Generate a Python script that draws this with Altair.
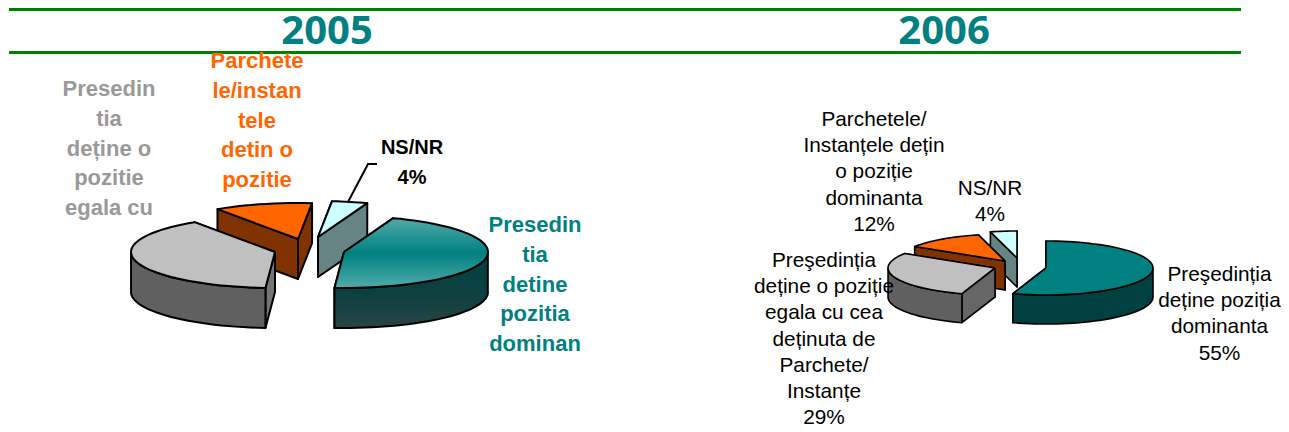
import math
import altair as alt

# ---- values ----
years = ["2005", "2006"]
categories = ["Presedintia dominanta", "Presedintia egala", "Parchetele dominante", "NS/NR"]
shares_2005 = [45.5, 39.5, 11, 4]
shares_2006 = [55, 29, 12, 4]

labels_2005_grey = ["Presedin", "tia", "deține o", "pozitie", "egala cu"]
labels_2005_orange = ["Parchete", "le/instan", "tele", "detin o", "pozitie"]
labels_2005_ns = ["NS/NR", "4%"]
labels_2005_teal = ["Presedin", "tia", "detine", "pozitia", "dominan"]
labels_2006_parchete = ["Parchetele/", "Instanțele dețin", "o poziție", "dominanta", "12%"]
labels_2006_ns = ["NS/NR", "4%"]
labels_2006_egala = ["Preşedinția", "deține o poziție", "egala cu cea", "deținuta de", "Parchete/", "Instanțe", "29%"]
labels_2006_dom = ["Preşedinția", "deține poziția", "dominanta", "55%"]

# ---- layout and styling ----
W, H = 1273, 420
X = alt.X("x:Q", scale=alt.Scale(domain=[8, 8 + W], zero=False, nice=False), axis=None)
Y = alt.Y("y:Q", scale=alt.Scale(domain=[8 + H, 8], zero=False, nice=False), axis=None)


def grad(c1, c2, c3=None):
    cols = [c1, c2] + ([c3] if c3 else [])
    stops = [alt.GradientStop(color=c, offset=i / (len(cols) - 1)) for i, c in enumerate(cols)]
    return alt.LinearGradient(gradient="linear", stops=stops, x1=0, x2=0, y1=0, y2=1)


STYLE = {
    2005: {
        "rx": 144, "ry": 36, "depth": 40, "start": 70, "sw": 2.0,
        "centers": [(344, 252), (275, 252), (298, 239), (318, 237)],
    },
    2006: {
        "rx": 107, "ry": 27, "depth": 29, "start": 90, "sw": 1.6,
        "centers": [(1046, 268), (995, 268), (1005, 261), (1017, 258)],
    },
}
COLORS = {
    2005: [
        (grad("#52aaaa", "#008080", "#52aaaa"), grad("#064040", "#0a4040", "#2a4444"), "#0a4040"),
        ("#c0c0c0", "#606060", "#747474"),
        ("#ff6600", "#803300", "#803300"),
        ("#ccffff", "#668484", "#668484"),
    ],
    2006: [
        ("#008080", "#004040", "#004040"),
        ("#c0c0c0", "#606060", "#666666"),
        ("#ff6600", "#803300", "#803300"),
        ("#ccffff", "#668484", "#668484"),
    ],
}
DRAW_ORDER = [3, 2, 1, 0]


def poly(points, fill, sw):
    closed = list(points) + [points[0]]
    rows = [{"i": i, "x": p[0], "y": p[1]} for i, p in enumerate(closed)]
    return (
        alt.Chart(alt.Data(values=rows))
        .mark_line(fill=fill, stroke="#000000", strokeWidth=sw, strokeJoin="round", interpolate="linear")
        .encode(x=X, y=Y, order=alt.Order("i:Q"))
    )


def pie_layers(year, shares):
    s = STYLE[year]
    rx, ry, d = s["rx"], s["ry"], s["depth"]
    spans = []
    t = s["start"]
    for v in shares:
        spans.append((t, t - v * 3.6))
        t -= v * 3.6
    out = []
    for k in DRAW_ORDER:
        cx, cy = s["centers"][k]
        t0, t1 = spans[k]
        top_col, wall_col, cut_col = COLORS[year][k]
        n = max(8, int(abs(t1 - t0) / 3))
        ts = [t0 + (t1 - t0) * j / n for j in range(n + 1)]
        pt = lambda a: (cx + rx * math.cos(math.radians(a)), cy - ry * math.sin(math.radians(a)))
        arc = [pt(a) for a in ts]
        down = lambda p: (p[0], p[1] + d)
        c = (cx, cy)
        # the two cut faces, far one first
        for p in sorted((arc[0], arc[-1]), key=lambda q: q[1]):
            out.append(poly([c, p, down(p), down(c)], cut_col, s["sw"]))
        # outer wall: the part of the rim on the near side
        front = [pt(a) for a in ts if math.sin(math.radians(a)) <= 0]
        if len(front) > 1:
            out.append(poly(front + [down(p) for p in reversed(front)], wall_col, s["sw"]))
        # top face
        out.append(poly([c] + arc, top_col, s["sw"]))
    return out


def text_layer(lines, cx, first, step, size, color, weight="normal", font="Liberation Sans"):
    rows = [{"t": t, "x": cx, "y": first + i * step} for i, t in enumerate(lines)]
    return (
        alt.Chart(alt.Data(values=rows))
        .mark_text(font=font, fontSize=size, fontWeight=weight, color=color, align="center", baseline="alphabetic")
        .encode(x=X, y=Y, text="t:N")
    )


rule_rows = [{"x": 9, "x2": 1241, "y": 9.5}, {"x": 9, "x2": 1241, "y": 52.5}]
rules = (
    alt.Chart(alt.Data(values=rule_rows))
    .mark_rule(color="#008000", strokeWidth=3)
    .encode(x=X, x2="x2:Q", y=Y)
)

leader = (
    alt.Chart(alt.Data(values=[{"i": 0, "x": 377, "y": 164}, {"i": 1, "x": 368, "y": 164}, {"i": 2, "x": 348, "y": 202}]))
    .mark_line(color="#000000", strokeWidth=2)
    .encode(x=X, y=Y, order=alt.Order("i:Q"))
)

layers = [rules]
layers.append(text_layer([years[0]], 327, 44, 0, 40, "#008080", "bold", "Open Sans"))
layers.append(text_layer([years[1]], 944, 44, 0, 40, "#008080", "bold", "Open Sans"))
layers += pie_layers(2005, shares_2005)
layers += pie_layers(2006, shares_2006)
layers.append(leader)
layers.append(text_layer(labels_2005_grey, 109, 96, 29.8, 22, "#999999", "bold"))
layers.append(text_layer(labels_2005_orange, 257, 68, 29.8, 22, "#ff6600", "bold"))
layers.append(text_layer(labels_2005_ns, 412, 154, 30, 20, "#000000", "bold"))
layers.append(text_layer(labels_2005_teal, 535, 232, 29.8, 22, "#008080", "bold"))
layers.append(text_layer(labels_2006_parchete, 874, 126, 26.2, 20.8, "#000000"))
layers.append(text_layer(labels_2006_ns, 990, 195, 26, 20.8, "#000000"))
layers.append(text_layer(labels_2006_egala, 824, 267, 26.2, 20.8, "#000000"))
layers.append(text_layer(labels_2006_dom, 1219.5, 281, 26.2, 20.8, "#000000"))

chart = (
    alt.layer(*layers)
    .properties(width=W, height=H, padding=0, autosize=alt.AutoSizeParams(type="none"))
    .configure_view(stroke=None)
)
chart.save("out.html", embed_options={"renderer": "svg", "actions": False})
